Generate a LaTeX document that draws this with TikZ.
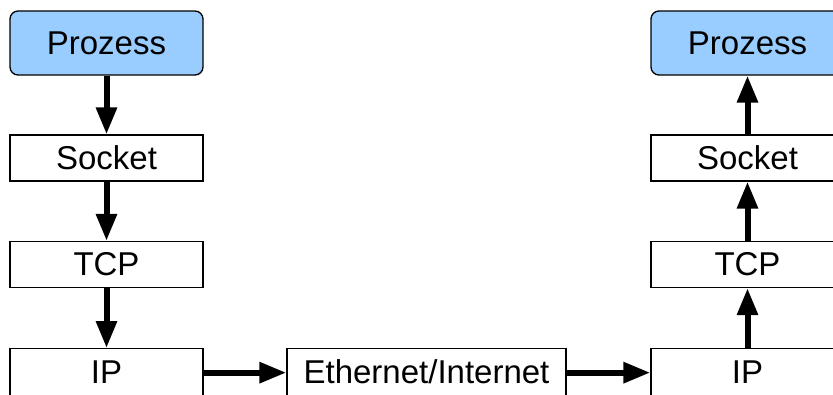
\documentclass[tikz,border=0pt]{standalone}
\usepackage{fontspec}
\setmainfont{Liberation Sans}
\usetikzlibrary{arrows.meta}
\definecolor{prozblau}{RGB}{153,204,255}

\begin{document}
\begin{tikzpicture}[x=1pt, y=-1pt,
  schicht/.style={draw, line width=1.3pt, minimum width=193pt, minimum height=46pt, inner sep=0pt, font=\fontsize{33}{40}\selectfont},
  prozess/.style={schicht, fill=prozblau, rounded corners=8pt, minimum height=64pt},
  unten/.style={schicht, anchor=north, minimum height=60pt, text height=24pt, text depth=14pt},
  pfeil/.style={line width=6pt, -{Triangle[length=27pt,width=20pt]}}]
\clip (0,0) rectangle (833,394);

% Sender (links)
\node[prozess] (prozL) at (106.5,43) {Prozess};
\node[schicht] (sockL) at (106.5,158) {Socket};
\node[schicht] (tcpL) at (106.5,264.5) {TCP};
\node[unten] (ipL) at (106.5,348) {IP};

% Netz
\node[unten, minimum width=279pt] (netz) at (426.5,348) {Ethernet/Internet};

% Empfaenger (rechts)
\node[prozess] (prozR) at (747.5,43) {Prozess};
\node[schicht] (sockR) at (747.5,158) {Socket};
\node[schicht] (tcpR) at (747.5,264.5) {TCP};
\node[unten] (ipR) at (747.5,348) {IP};

% Pfeile
\draw[pfeil] (prozL) -- (sockL);
\draw[pfeil] (sockL) -- (tcpL);
\draw[pfeil] (tcpL) -- (ipL);
\draw[pfeil] ([yshift=6pt]ipL.east) -- ([yshift=6pt]netz.west);
\draw[pfeil] ([yshift=6pt]netz.east) -- ([yshift=6pt]ipR.west);
\draw[pfeil] (ipR) -- (tcpR);
\draw[pfeil] (tcpR) -- (sockR);
\draw[pfeil] (sockR) -- (prozR);
\end{tikzpicture}
\end{document}
